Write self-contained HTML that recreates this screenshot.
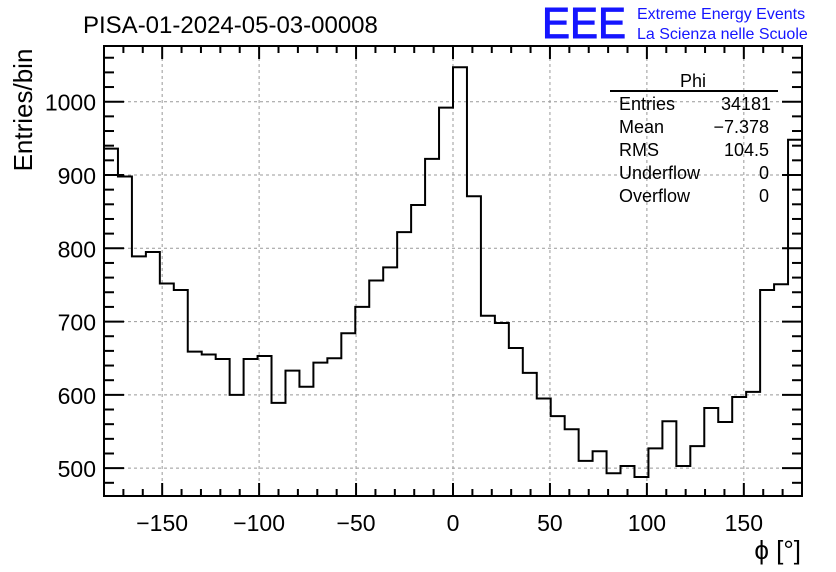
<!DOCTYPE html>
<html><head><meta charset="utf-8"><style>
body{margin:0;background:#fff;}
svg{display:block;font-family:"Liberation Sans",sans-serif;}
</style></head><body>
<svg id="c" width="836" height="572" viewBox="0 0 836 572">
<text x="83" y="33" font-size="24">PISA-01-2024-05-03-00008</text>
<text x="542" y="38" font-size="44" fill="#1515ff" stroke="#1515ff" stroke-width="1" textLength="84" lengthAdjust="spacingAndGlyphs">EEE</text>
<text x="637" y="19" font-size="16" fill="#1515ff">Extreme Energy Events</text>
<text x="637" y="39" font-size="16" fill="#1515ff">La Scienza nelle Scuole</text>
<g id="grid"></g>
<g id="ticks"></g>
<path id="hist" fill="none" stroke="#000" stroke-width="2"/>
<rect x="104" y="46" width="698" height="450" fill="none" stroke="#000" stroke-width="2"/>
<g id="labels" font-size="23"></g>
<text transform="translate(32,110) rotate(-90)" text-anchor="middle" font-size="26">Entries/bin</text>
<text x="801" y="559" text-anchor="end" font-size="26">ϕ [°]</text>
<g font-size="18">
<text x="693" y="87" text-anchor="middle">Phi</text>
<line x1="610" y1="91" x2="778" y2="91" stroke="#000" stroke-width="2"/>
<text x="619" y="110">Entries</text><text x="771" y="110" text-anchor="end">34181</text>
<text x="619" y="133">Mean</text><text x="769" y="133" text-anchor="end">−7.378</text>
<text x="619" y="156">RMS</text><text x="769" y="156" text-anchor="end">104.5</text>
<text x="619" y="179">Underflow</text><text x="769" y="179" text-anchor="end">0</text>
<text x="619" y="202">Overflow</text><text x="769" y="202" text-anchor="end">0</text>
</g>
</svg>
<script>
const counts=[936,898,789,795,752,743,659,655,649,600,649,653,589,633,611,644,650,684,720,756,774,822,859,922,992,1047,871,708,698,664,630,595,571,553,510,523,493,503,488,527,564,503,530,582,563,597,604,743,751,948];
const xMin=-180,xMax=180;
const yMin=462,yMax=1076;
const xTickLabels=[-150,-100,-50,0,50,100,150];
const yTickLabels=[500,600,700,800,900,1000];
const L=104,R=802,T=46,B=496;
const NS='http://www.w3.org/2000/svg';
function X(v){return L+(v-xMin)/(xMax-xMin)*(R-L);}
function Y(v){return B-(v-yMin)/(yMax-yMin)*(B-T);}
function el(t,a,p){const e=document.createElementNS(NS,t);for(const k in a)e.setAttribute(k,a[k]);p.appendChild(e);return e;}
const w=(xMax-xMin)/counts.length;
let d='';
counts.forEach((c,i)=>{const x0=X(xMin+i*w),x1=X(xMin+(i+1)*w),y=Y(c);
d+=(i===0?'M'+x0+','+y:'L'+x0+','+y)+'L'+x1+','+y;});
const hp=document.getElementById('hist');hp.setAttribute('d',d);
const grid=document.getElementById('grid'),ticks=document.getElementById('ticks'),labels=document.getElementById('labels');
xTickLabels.forEach(v=>{const x=X(v);
const g=el('line',{x1:x,x2:x,y1:T,y2:B,stroke:'#999','stroke-dasharray':'3,3','stroke-width':1},grid);


const t=el('text',{x:x,y:531,'text-anchor':'middle'},labels);t.textContent=v<0?'−'+(-v):String(v);

});
yTickLabels.forEach(v=>{const y=Y(v);
const g=el('line',{x1:L,x2:R,y1:y,y2:y,stroke:'#999','stroke-dasharray':'3,3','stroke-width':1},grid);


const t=el('text',{x:96,y:y+9,'text-anchor':'end'},labels);t.textContent=v;

});
for(let v=-180;v<=180;v+=10){const x=X(v),len=(v%50===0)?13:7;
el('line',{x1:x,x2:x,y1:B,y2:B-len,stroke:'#000','stroke-width':2},ticks);
el('line',{x1:x,x2:x,y1:T,y2:T+len,stroke:'#000','stroke-width':2},ticks);}
for(let v=480;v<=1060;v+=20){const y=Y(v),len=(v%100===0)?20:10;
el('line',{x1:L,x2:L+len,y1:y,y2:y,stroke:'#000','stroke-width':2},ticks);
el('line',{x1:R,x2:R-len,y1:y,y2:y,stroke:'#000','stroke-width':2},ticks);}
</script>
</body></html>
